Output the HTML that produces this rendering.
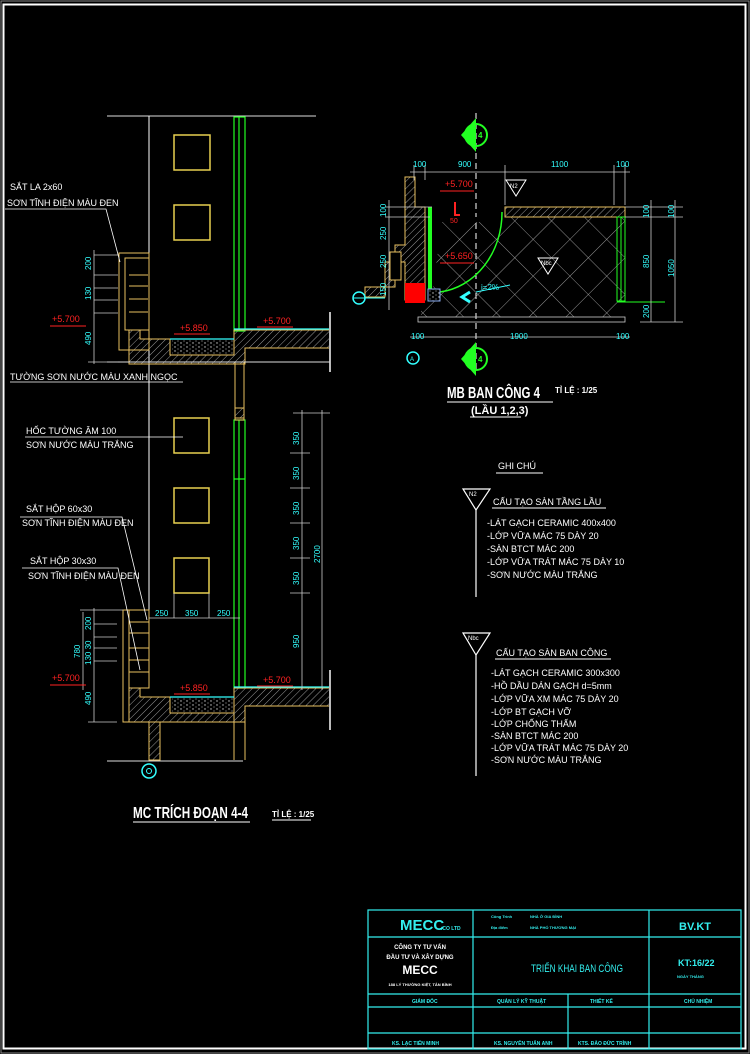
<!DOCTYPE html>
<html><head><meta charset="utf-8"><style>
html,body{margin:0;padding:0;background:#000;}
svg{display:block}
text{font-family:"Liberation Sans","Noto Sans CJK SC",sans-serif;}
</style></head><body>
<svg width="750" height="1054" viewBox="0 0 750 1054" xmlns="http://www.w3.org/2000/svg">
<defs>
<pattern id="h" width="5" height="5" patternUnits="userSpaceOnUse" patternTransform="rotate(45)"><line x1="0" y1="0" x2="0" y2="5" stroke="#999" stroke-width="1"/></pattern>
<pattern id="sp" width="6" height="4" patternUnits="userSpaceOnUse"><rect width="6" height="4" fill="#000"/><circle cx="1" cy="1" r="0.7" fill="#ccc"/><circle cx="4" cy="3" r="0.6" fill="#999"/></pattern>
<pattern id="dm" width="26" height="26" patternUnits="userSpaceOnUse" patternTransform="rotate(45)"><path d="M0 0H26M0 0V26" stroke="#bbb" stroke-width="0.8" fill="none"/></pattern>
<g id="slab">
<polygon points="129,688 140,688 140,697 170,697 170,713 234,713 234,688 330,688 330,706 245,706 245,722 129,722" fill="url(#h)" stroke="#e8c060" stroke-width="1"/>
<rect x="172" y="698" width="61" height="14" fill="url(#sp)"/>
<line x1="170" y1="697" x2="234" y2="697" stroke="#3ff" stroke-width="1.2"/>
<line x1="234" y1="687" x2="330" y2="687" stroke="#3ff" stroke-width="1.2"/>
<line x1="330" y1="670" x2="330" y2="730" stroke="#bbb" stroke-width="2"/>
</g>
</defs>
<rect width="750" height="1054" fill="#000"/>
<rect x="1" y="1" width="748" height="1052" fill="none" stroke="#888" stroke-width="1"/>
<rect x="3.5" y="4.5" width="742" height="1044" fill="none" stroke="#fff" stroke-width="2"/>

<!-- SECTION -->
<line x1="107" y1="116" x2="316" y2="116" stroke="#ddd"/>
<line x1="149" y1="116" x2="149" y2="610" stroke="#fff"/>
<g stroke="#e8d050" stroke-width="1.5" fill="none">
<rect x="174" y="135" width="36" height="35"/><rect x="174" y="205" width="36" height="35"/>
<rect x="174" y="418" width="35" height="35"/><rect x="174" y="488" width="35" height="35"/><rect x="174" y="558" width="35" height="35"/>
</g>
<g stroke="#2f2" stroke-width="1.2" fill="none">
<rect x="234" y="117" width="11" height="214"/><line x1="239" y1="117" x2="239" y2="331"/>
<rect x="234" y="420" width="11" height="268"/><line x1="239" y1="420" x2="239" y2="688"/>
<line x1="234" y1="479" x2="245" y2="479"/>
</g>
<rect x="235" y="362" width="9" height="58" fill="none" stroke="#e8c060"/>
<rect x="235" y="408" width="9" height="10" fill="url(#h)" stroke="#e8c060"/>
<line x1="234" y1="706" x2="234" y2="760" stroke="#e8c060"/><line x1="245" y1="706" x2="245" y2="760" stroke="#e8c060"/>

<use href="#slab" transform="translate(0,-358)"/>
<use href="#slab"/>
<line x1="107" y1="362" x2="330" y2="362" stroke="#ddd"/>
<g stroke="#e8c060" fill="none">
<rect x="119" y="253" width="30" height="97"/><rect x="125" y="258" width="24" height="72"/>
<line x1="129" y1="275" x2="148" y2="275"/><line x1="129" y1="286" x2="148" y2="286"/><line x1="129" y1="299" x2="148" y2="299"/><line x1="129" y1="312" x2="148" y2="312"/>
<rect x="123" y="610" width="6" height="112"/><rect x="129" y="610" width="20" height="78"/>
<line x1="129" y1="622" x2="149" y2="622"/><line x1="129" y1="633" x2="149" y2="633"/><line x1="129" y1="648" x2="149" y2="648"/><line x1="129" y1="660" x2="149" y2="660"/><line x1="129" y1="672" x2="149" y2="672"/>
</g>
<rect x="149" y="722" width="11" height="38" fill="url(#h)" stroke="#e8c060"/>
<line x1="107" y1="761" x2="243" y2="761" stroke="#ddd"/>
<circle cx="149" cy="771" r="7" fill="none" stroke="#3ff" stroke-width="1.5"/><circle cx="149" cy="771" r="2.5" fill="none" stroke="#3ff"/>
<g stroke="#ccc" stroke-width="0.8">
<line x1="94" y1="250" x2="94" y2="364"/>
<line x1="94" y1="255" x2="118" y2="255"/><line x1="94" y1="275" x2="118" y2="275"/><line x1="94" y1="288" x2="118" y2="288"/><line x1="94" y1="300" x2="118" y2="300"/><line x1="94" y1="313" x2="118" y2="313"/><line x1="88" y1="362" x2="118" y2="362"/>
<line x1="83" y1="612" x2="83" y2="690"/><line x1="94" y1="608" x2="94" y2="722"/>
<line x1="80" y1="610" x2="123" y2="610"/><line x1="94" y1="624" x2="117" y2="624"/><line x1="94" y1="637" x2="117" y2="637"/><line x1="94" y1="648" x2="117" y2="648"/><line x1="94" y1="661" x2="117" y2="661"/><line x1="88" y1="722" x2="117" y2="722"/>
<line x1="149" y1="618" x2="240" y2="618"/>
<line x1="302" y1="410" x2="302" y2="690"/><line x1="322" y1="410" x2="322" y2="690"/>
<line x1="293" y1="413" x2="330" y2="413"/><line x1="290" y1="453" x2="310" y2="453"/><line x1="290" y1="488" x2="310" y2="488"/><line x1="290" y1="523" x2="310" y2="523"/><line x1="290" y1="558" x2="310" y2="558"/><line x1="290" y1="593" x2="310" y2="593"/>
<line x1="174" y1="593" x2="174" y2="618"/><line x1="209" y1="593" x2="209" y2="618"/>
</g>
<g fill="#3ff" font-size="8">
<text transform="translate(91,270) rotate(-90)">200</text>
<text transform="translate(91,300) rotate(-90)">130</text>
<text transform="translate(91,345) rotate(-90)">490</text>
<text transform="translate(80,658) rotate(-90)">780</text>
<text transform="translate(91,630) rotate(-90)">200</text>
<text transform="translate(91,665) rotate(-90)">130 30</text>
<text transform="translate(91,705) rotate(-90)">490</text>
<text x="155" y="616">250</text><text x="185" y="616">350</text><text x="217" y="616">250</text>
<text transform="translate(299,445) rotate(-90)">350</text>
<text transform="translate(299,480) rotate(-90)">350</text>
<text transform="translate(299,515) rotate(-90)">350</text>
<text transform="translate(299,550) rotate(-90)">350</text>
<text transform="translate(299,585) rotate(-90)">350</text>
<text transform="translate(299,648) rotate(-90)">950</text>
<text transform="translate(320,563) rotate(-90)">2700</text>
</g>
<g fill="#f22" font-size="9">
<text x="52" y="322">+5.700</text><line x1="50" y1="326" x2="86" y2="326" stroke="#f22"/>
<text x="180" y="331">+5.850</text><line x1="174" y1="334" x2="210" y2="334" stroke="#f22"/>
<text x="263" y="324">+5.700</text><line x1="257" y1="327" x2="293" y2="327" stroke="#f22"/>
<text x="52" y="681">+5.700</text><line x1="50" y1="685" x2="86" y2="685" stroke="#f22"/>
<text x="180" y="691">+5.850</text><line x1="174" y1="694" x2="210" y2="694" stroke="#f22"/>
<text x="263" y="683">+5.700</text><line x1="257" y1="686" x2="293" y2="686" stroke="#f22"/>
</g>
<g fill="#fff" font-size="9">
<text x="10" y="190">SẮT LA 2x60</text>
<text x="7" y="206">SƠN TĨNH ĐIỆN MÀU ĐEN</text>
<text x="10" y="380">TƯỜNG SƠN NƯỚC MÀU XANH NGỌC</text>
<text x="26" y="434">HỐC TƯỜNG ÂM 100</text>
<text x="26" y="448">SƠN NƯỚC MÀU TRẮNG</text>
<text x="26" y="512">SẮT HỘP 60x30</text>
<text x="22" y="526">SƠN TĨNH ĐIỆN MÀU ĐEN</text>
<text x="30" y="564">SẮT HỘP 30x30</text>
<text x="28" y="579">SƠN TĨNH ĐIỆN MÀU ĐEN</text>
</g>
<g stroke="#fff" stroke-width="0.8" fill="none">
<polyline points="5,209 106,209 120,262"/>
<line x1="10" y1="382" x2="183" y2="382"/>
<line x1="25" y1="437" x2="183" y2="437"/>
<polyline points="20,517 122,517 147,620"/>
<polyline points="22,568 118,568 140,670"/>
</g>
<text x="133" y="818" fill="#fff" font-size="16" font-weight="bold" textLength="115" lengthAdjust="spacingAndGlyphs">MC TRÍCH ĐOẠN 4-4</text>
<line x1="133" y1="822" x2="250" y2="822" stroke="#fff"/>
<text x="272" y="817" fill="#fff" font-size="8" font-weight="bold">TỈ LỆ : 1/25</text>
<line x1="272" y1="820" x2="311" y2="820" stroke="#fff"/>

<!-- PLAN -->
<line x1="476" y1="113" x2="476" y2="372" stroke="#fff" stroke-dasharray="6,4"/>
<g>
<polygon points="461,135 476,118 476,152" fill="#2f2"/><circle cx="476" cy="135" r="11" fill="none" stroke="#2f2" stroke-width="2"/>
<text x="478" y="138" fill="#2f2" font-size="8" font-weight="bold">4</text>
<polygon points="461,359 476,342 476,376" fill="#2f2"/><circle cx="476" cy="359" r="11" fill="none" stroke="#2f2" stroke-width="2"/>
<text x="478" y="362" fill="#2f2" font-size="8" font-weight="bold">4</text>
</g>
<rect x="421" y="217" width="204" height="100" fill="url(#dm)"/>
<polygon points="421,217 500,217 500,222 442,222 432,295 421,300" fill="#000"/>
<path d="M502 212 A70 80 0 0 1 440 292" fill="none" stroke="#2f2" stroke-width="1.5"/>
<rect x="505" y="207" width="120" height="10" fill="url(#h)" stroke="#e8c060"/>
<rect x="428" y="207" width="4" height="88" fill="#2f2"/>
<rect x="617" y="217" width="8" height="84" fill="none" stroke="#2f2"/><line x1="621" y1="217" x2="621" y2="301" stroke="#2f2"/>
<polyline points="617,302 665,302 M625,292 665,292" fill="none" stroke="#2f2"/>
<polygon points="405,177 415,177 415,207 425,207 425,300 405,300 405,262 385,262 385,297 365,297 365,287 395,287 395,245 405,245" fill="url(#h)" stroke="#e8c060"/>
<rect x="390" y="252" width="11" height="28" fill="#000" stroke="#e8c060"/>
<rect x="405" y="283" width="20" height="20" fill="#f00"/>
<rect x="428" y="289" width="12" height="12" fill="url(#sp)" stroke="#8ae"/>
<g stroke="#ccc" stroke-width="0.8" fill="none">
<rect x="418" y="317" width="207" height="5"/>
<line x1="410" y1="172" x2="630" y2="172"/><line x1="410" y1="337" x2="630" y2="337"/>
<line x1="385" y1="207" x2="432" y2="207"/><line x1="385" y1="217" x2="430" y2="217"/>
<line x1="389" y1="200" x2="389" y2="310"/><line x1="651" y1="200" x2="651" y2="322"/><line x1="675" y1="200" x2="675" y2="322"/>
<line x1="625" y1="207" x2="683" y2="207"/><line x1="625" y1="217" x2="683" y2="217"/><line x1="640" y1="322" x2="683" y2="322"/>
<line x1="414" y1="165" x2="414" y2="180"/><line x1="425" y1="165" x2="425" y2="180"/><line x1="505" y1="165" x2="505" y2="205"/><line x1="614" y1="165" x2="614" y2="205"/><line x1="625" y1="165" x2="625" y2="205"/>
</g>
<line x1="476" y1="292" x2="510" y2="285" stroke="#3ff"/><path d="M470 292 L462 297 L470 302" fill="none" stroke="#3ff" stroke-width="3"/>
<g fill="#3ff" font-size="8">
<text x="413" y="167">100</text><text x="458" y="167">900</text><text x="551" y="167">1100</text><text x="616" y="167">100</text>
<text x="411" y="339">100</text><text x="510" y="339">1900</text><text x="616" y="339">100</text>
<text x="481" y="290">i=2%</text>
<text transform="translate(386,217) rotate(-90)">100</text>
<text transform="translate(386,240) rotate(-90)">250</text>
<text transform="translate(386,268) rotate(-90)">250</text>
<text transform="translate(386,296) rotate(-90)">150</text>
<text transform="translate(649,218) rotate(-90)">100</text>
<text transform="translate(674,218) rotate(-90)">100</text>
<text transform="translate(649,268) rotate(-90)">850</text>
<text transform="translate(674,277) rotate(-90)">1050</text>
<text transform="translate(649,318) rotate(-90)">200</text>
</g>
<circle cx="359" cy="298" r="6" fill="none" stroke="#3ff" stroke-width="1.5"/><line x1="353" y1="298" x2="385" y2="298" stroke="#3ff"/>
<circle cx="413" cy="358" r="6" fill="none" stroke="#3ff" stroke-width="1.5"/><text x="410" y="361" fill="#3ff" font-size="6">A</text>
<g fill="#f22" font-size="9">
<text x="445" y="187">+5.700</text><line x1="440" y1="191" x2="474" y2="191" stroke="#f22"/>
<text x="445" y="259">+5.650</text><line x1="440" y1="263" x2="474" y2="263" stroke="#f22"/>
<path d="M455 202 V215 H460" stroke="#f22" fill="none" stroke-width="2"/><text x="450" y="223" font-size="7">50</text>
</g>
<g stroke="#fff" fill="none"><polygon points="506,180 526,180 516,196"/><polygon points="538,258 558,258 548,274"/></g>
<text x="510" y="188" fill="#fff" font-size="6">N2</text><text x="541" y="265" fill="#fff" font-size="6">Nbc</text>
<text x="447" y="398" fill="#fff" font-size="16" font-weight="bold" textLength="93" lengthAdjust="spacingAndGlyphs">MB BAN CÔNG 4</text>
<line x1="447" y1="402" x2="553" y2="402" stroke="#fff"/>
<text x="555" y="393" fill="#fff" font-size="8" font-weight="bold">TỈ LỆ : 1/25</text>
<text x="471" y="414" fill="#fff" font-size="11" font-weight="bold">(LẦU 1,2,3)</text>
<line x1="470" y1="417" x2="521" y2="417" stroke="#fff"/>

<!-- NOTES -->
<g fill="#fff" font-size="9">
<text x="498" y="469">GHI CHÚ</text><line x1="496" y1="473" x2="543" y2="473" stroke="#fff"/>
<text x="493" y="505">CẤU TẠO SÀN TẦNG LẦU</text><line x1="492" y1="508" x2="606" y2="508" stroke="#fff"/>
<text x="487" y="526">-LÁT GẠCH CERAMIC 400x400</text>
<text x="487" y="539">-LỚP VỮA MÁC 75 DÀY 20</text>
<text x="487" y="552">-SÀN BTCT MÁC 200</text>
<text x="487" y="565">-LỚP VỮA TRÁT MÁC 75 DÀY 10</text>
<text x="487" y="578">-SƠN NƯỚC MÀU TRẮNG</text>
<text x="496" y="656">CẤU TẠO SÀN BAN CÔNG</text><line x1="495" y1="659" x2="611" y2="659" stroke="#fff"/>
<text x="491" y="676">-LÁT GẠCH CERAMIC 300x300</text>
<text x="491" y="689">-HỒ DẦU DÁN GẠCH d=5mm</text>
<text x="491" y="702">-LỚP VỮA XM MÁC 75 DÀY 20</text>
<text x="491" y="715">-LỚP BT GẠCH VỠ</text>
<text x="491" y="727">-LỚP CHỐNG THẤM</text>
<text x="491" y="739">-SÀN BTCT MÁC 200</text>
<text x="491" y="751">-LỚP VỮA TRÁT MÁC 75 DÀY 20</text>
<text x="491" y="763">-SƠN NƯỚC MÀU TRẮNG</text>
</g>
<g stroke="#fff" fill="none" stroke-width="1.2">
<polygon points="463,489 490,489 476,510"/><line x1="476" y1="510" x2="476" y2="597"/>
<polygon points="463,633 490,633 476,655"/><line x1="476" y1="655" x2="476" y2="776"/>
</g>
<text x="469" y="496" fill="#fff" font-size="6">N2</text><text x="468" y="640" fill="#fff" font-size="6">Nbc</text>

<!-- TITLE BLOCK -->
<g stroke="#3ee" stroke-width="1.2" fill="none">
<rect x="368" y="910" width="373" height="139"/>
<line x1="368" y1="937" x2="741" y2="937"/><line x1="368" y1="994" x2="741" y2="994"/><line x1="368" y1="1007" x2="741" y2="1007"/><line x1="368" y1="1033" x2="741" y2="1033"/>
<line x1="473" y1="910" x2="473" y2="1049"/><line x1="649" y1="910" x2="649" y2="1049"/><line x1="568" y1="994" x2="568" y2="1049"/>
</g>
<g fill="#3ee" font-weight="bold">
<text x="400" y="930" font-size="15">MECC</text><text x="441" y="930" font-size="5">.CO LTD</text>
<text x="491" y="918" font-size="4">Công Trình</text><text x="530" y="918" font-size="4">NHÀ Ở GIA ĐÌNH</text>
<text x="491" y="929" font-size="4">Địa điểm</text><text x="530" y="929" font-size="4">NHÀ PHỐ THƯƠNG MẠI</text>
<text x="679" y="930" font-size="11">BV.KT</text>
<text x="531" y="972" font-size="11" font-weight="normal" textLength="92" lengthAdjust="spacingAndGlyphs">TRIỂN KHAI BAN CÔNG</text>
<text x="678" y="966" font-size="9">KT:16/22</text>
<text x="677" y="978" font-size="4">NGÀY THÁNG</text>
<text x="412" y="1003" font-size="5">GIÁM ĐỐC</text><text x="497" y="1003" font-size="5">QUẢN LÝ KỸ THUẬT</text><text x="590" y="1003" font-size="5">THIẾT KẾ</text><text x="684" y="1003" font-size="5">CHỦ NHIỆM</text>
<text x="392" y="1045" font-size="5">KS. LẠC TIẾN MINH</text><text x="494" y="1045" font-size="5">KS. NGUYỄN TUẤN ANH</text><text x="578" y="1045" font-size="5">KTS. ĐÀO ĐỨC TRÌNH</text>
</g>
<g fill="#fff" font-weight="bold" text-anchor="middle">
<text x="420" y="949" font-size="6">CÔNG TY TƯ VẤN</text>
<text x="420" y="959" font-size="6">ĐẦU TƯ VÀ XÂY DỰNG</text>
<text x="420" y="974" font-size="12">MECC</text>
<text x="420" y="986" font-size="4">188 LÝ THƯỜNG KIỆT, TÂN BÌNH</text>
</g>
</svg>
</body></html>
